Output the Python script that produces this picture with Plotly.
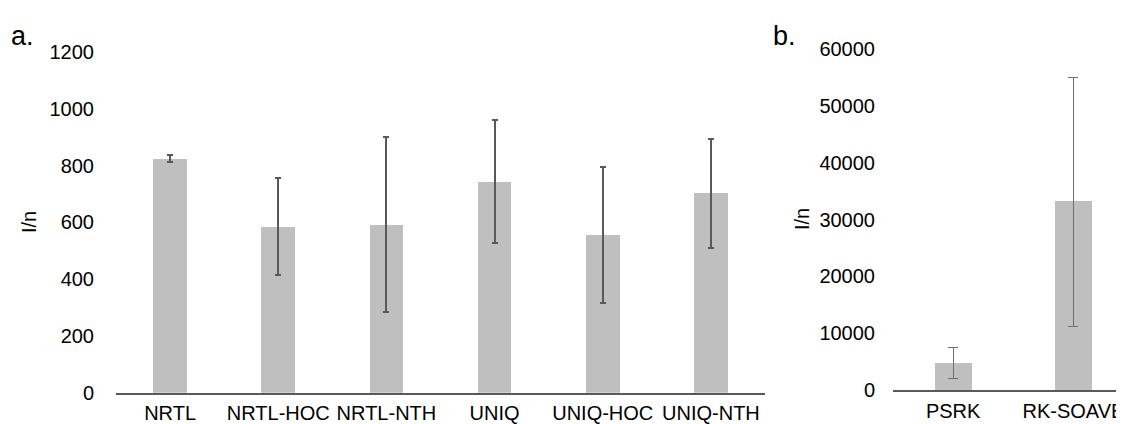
import plotly.graph_objects as go

cats_a = ["NRTL", "NRTL-HOC", "NRTL-NTH", "UNIQ", "UNIQ-HOC", "UNIQ-NTH"]
vals_a = [824, 585, 591, 743, 555, 702]
err_a = [13, 171, 308, 217, 239, 191]

cats_b = ["PSRK", "RK-SOAVE"]
vals_b = [4700, 33160]
err_b = [2730, 21900]

ticks_a = [0, 200, 400, 600, 800, 1000, 1200]
ticks_b = [0, 10000, 20000, 30000, 40000, 50000, 60000]

BAR = "#bfbfbf"
ERR = "#595959"
FONT = "Liberation Sans, Arial, sans-serif"
FS = 20

# page body has an 8px margin; figure sized so it fits the window
OFF = 8
W, H = 1124 - OFF, 424 - OFF


def fx(px):
    return (px - OFF) / W


def fy(py):
    return (H - (py - OFF)) / H


fig = go.Figure()
fig.add_trace(go.Bar(
    x=cats_a, y=vals_a, width=0.31, marker=dict(color=BAR, line=dict(width=0)),
    error_y=dict(type="data", array=err_a, color=ERR, thickness=2, width=3),
    xaxis="x", yaxis="y", showlegend=False))
fig.add_trace(go.Bar(
    x=cats_b, y=vals_b, width=0.31, marker=dict(color=BAR, line=dict(width=0)),
    error_y=dict(type="data", array=err_b, color="#6f6f6f", thickness=1, width=5),
    xaxis="x2", yaxis="y2", showlegend=False))

common_x = dict(type="category", showline=True, linecolor=ERR, linewidth=1.5,
                ticks="", showgrid=False, automargin=False,
                tickfont=dict(size=FS), ticklabelstandoff=2)
common_y = dict(showgrid=False, zeroline=False, ticks="", showline=False,
                automargin=False, tickfont=dict(size=FS), tickformat="d")

fig.update_layout(
    width=W, height=H,
    margin=dict(l=0, r=0, t=0, b=0),
    paper_bgcolor="white", plot_bgcolor="white",
    font=dict(family=FONT, size=FS, color="#000000"),
    bargap=0,
    xaxis=dict(domain=[fx(116), fx(765)], anchor="y", range=[-0.5, 5.5], **common_x),
    yaxis=dict(domain=[fy(392.7), fy(52)], anchor="x",
               range=[0, 1200], tickvals=ticks_a, ticklabelstandoff=21, **common_y),
    xaxis2=dict(domain=[fx(893), 1.0], anchor="y2", range=[-0.5, 1.42], **common_x),
    yaxis2=dict(domain=[fy(390), fy(49.3)], anchor="x2",
                range=[0, 60000], tickvals=ticks_b, ticklabelstandoff=17, **common_y),
    annotations=[
        dict(text="a.", x=fx(9), y=fy(36), xref="paper", yref="paper",
             xanchor="left", yanchor="middle", showarrow=False, font=dict(size=27)),
        dict(text="b.", x=fx(771), y=fy(36), xref="paper", yref="paper",
             xanchor="left", yanchor="middle", showarrow=False, font=dict(size=27)),
        dict(text="I/n", x=fx(29), y=fy(222), xref="paper", yref="paper",
             xanchor="center", yanchor="middle", textangle=-90, showarrow=False,
             font=dict(size=FS)),
        dict(text="I/n", x=fx(802), y=fy(219), xref="paper", yref="paper",
             xanchor="center", yanchor="middle", textangle=-90, showarrow=False,
             font=dict(size=FS)),
    ],
)

fig.write_html("out.html")
